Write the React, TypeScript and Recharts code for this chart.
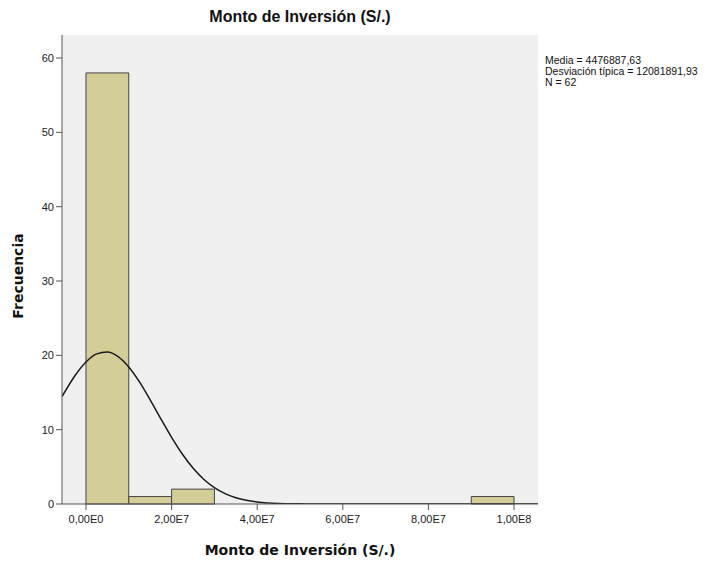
import {
    ComposedChart,
    Line,
    XAxis,
    YAxis,
    CartesianGrid,
    ReferenceArea
} from 'recharts';

// histogram bins (S/.) and counts
const binStarts = [0, 1e7, 2e7, 9e7];
const binEnds = [1e7, 2e7, 3e7, 1e8];
const binCounts = [58, 1, 2, 1];

// normal curve
const curveX = [
    -5.6e6, -2.5e6, 0, 2.5e6, 5e6, 7.5e6, 1e7, 1.25e7, 1.5e7, 1.75e7, 2e7, 2.25e7,
    2.5e7, 2.75e7, 3e7, 3.25e7, 3.5e7, 3.75e7, 4e7, 4.5e7, 5e7, 5.5e7, 6e7, 7e7,
    8e7, 9e7, 1e8, 1.056e8
];
const curveY = [
    14.45, 17.33, 19.11, 20.2, 20.45, 19.84, 18.44, 16.42, 14.01, 11.45, 8.97, 6.73,
    4.84, 3.33, 2.2, 1.39, 0.84, 0.49, 0.27, 0.07, 0.02, 0, 0, 0,
    0, 0, 0, 0
];

const xTicks = [0, 2e7, 4e7, 6e7, 8e7, 1e8];
const xTickLabels = ['0,00E0', '2,00E7', '4,00E7', '6,00E7', '8,00E7', '1,00E8'];
const yTicks = [0, 10, 20, 30, 40, 50, 60];

const statsLines = ['Media = 4476887,63', 'Desviación típica = 12081891,93', 'N = 62'];

const X_DOMAIN: [number, number] = [-5.6e6, 1.056e8];
const Y_DOMAIN: [number, number] = [0, 63.1];

const curveData = curveX.map((x, i) => ({ x, y: curveY[i] }));

const BAR_FILL = '#d3ce97';
const LINE_GRAY = '#555555';
const SANS = '"Liberation Sans", Arial, sans-serif';
const BOLD_LABEL = '"DejaVu Sans", sans-serif';

const App = () => {
    return (
        <div style={{
            position: 'absolute',
            left: 0,
            top: 0,
            width: 706,
            height: 562,
            background: '#ffffff',
            fontFamily: SANS
        }}>
            <div style={{
                position: 'absolute',
                left: 62,
                width: 476,
                top: 8,
                textAlign: 'center',
                fontSize: 16,
                fontWeight: 700,
                color: '#111'
            }}>
                Monto de Inversión (S/.)
            </div>

            <div style={{
                position: 'absolute',
                left: 545,
                top: 55,
                fontSize: 10.5,
                lineHeight: '11px',
                color: '#111',
                whiteSpace: 'nowrap'
            }}>
                {statsLines.map(s => <div key={s}>{s}</div>)}
            </div>

            <div style={{
                position: 'absolute',
                left: 18,
                top: 276,
                transform: 'translate(-50%, -50%) rotate(-90deg)',
                fontFamily: BOLD_LABEL,
                fontSize: 14,
                fontWeight: 700,
                color: '#111',
                whiteSpace: 'nowrap'
            }}>
                Frecuencia
            </div>

            <ComposedChart
                width={706}
                height={562}
                data={curveData}
                margin={{ top: 35, right: 168, bottom: 28, left: 12 }}
            >
                <CartesianGrid fill="#f0f0f0" horizontal={false} vertical={false} />
                <XAxis
                    dataKey="x"
                    type="number"
                    domain={X_DOMAIN}
                    ticks={xTicks}
                    allowDataOverflow
                    tickFormatter={(v: number) => xTickLabels[xTicks.indexOf(v)] ?? ''}
                    tick={{ fontSize: 11, fill: '#222', fontFamily: SANS, dy: 3 }}
                    tickSize={6}
                    tickLine={{ stroke: LINE_GRAY }}
                    axisLine={{ stroke: LINE_GRAY }}
                    height={30}
                    label={{
                        value: 'Monto de Inversión (S/.)',
                        position: 'insideBottom',
                        offset: -21,
                        style: { fontSize: 14, fontWeight: 700, fill: '#111', fontFamily: BOLD_LABEL }
                    }}
                />
                <XAxis
                    xAxisId="top"
                    orientation="top"
                    dataKey="x"
                    type="number"
                    domain={X_DOMAIN}
                    allowDataOverflow
                    tick={false}
                    tickLine={false}
                    axisLine={{ stroke: LINE_GRAY }}
                    height={0}
                />
                <YAxis
                    type="number"
                    domain={Y_DOMAIN}
                    ticks={yTicks}
                    allowDataOverflow
                    tick={{ fontSize: 11, fill: '#222', fontFamily: SANS }}
                    tickSize={6}
                    tickLine={{ stroke: LINE_GRAY }}
                    axisLine={{ stroke: LINE_GRAY }}
                    width={50}
                />
                <YAxis
                    yAxisId="right"
                    orientation="right"
                    type="number"
                    domain={Y_DOMAIN}
                    tick={false}
                    tickLine={false}
                    axisLine={{ stroke: LINE_GRAY }}
                    width={0}
                />
                {binCounts.map((c, i) => (
                    <ReferenceArea
                        key={`bin-${i}`}
                        x1={binStarts[i]}
                        x2={binEnds[i]}
                        y1={0}
                        y2={c}
                        fill={BAR_FILL}
                        fillOpacity={1}
                        stroke="#444444"
                        strokeWidth={1}
                    />
                ))}
                <Line
                    dataKey="y"
                    type="monotone"
                    stroke="#1a1a1a"
                    strokeWidth={1.5}
                    dot={false}
                    activeDot={false}
                    isAnimationActive={false}
                />
            </ComposedChart>
        </div>
    );
};

export default App;
